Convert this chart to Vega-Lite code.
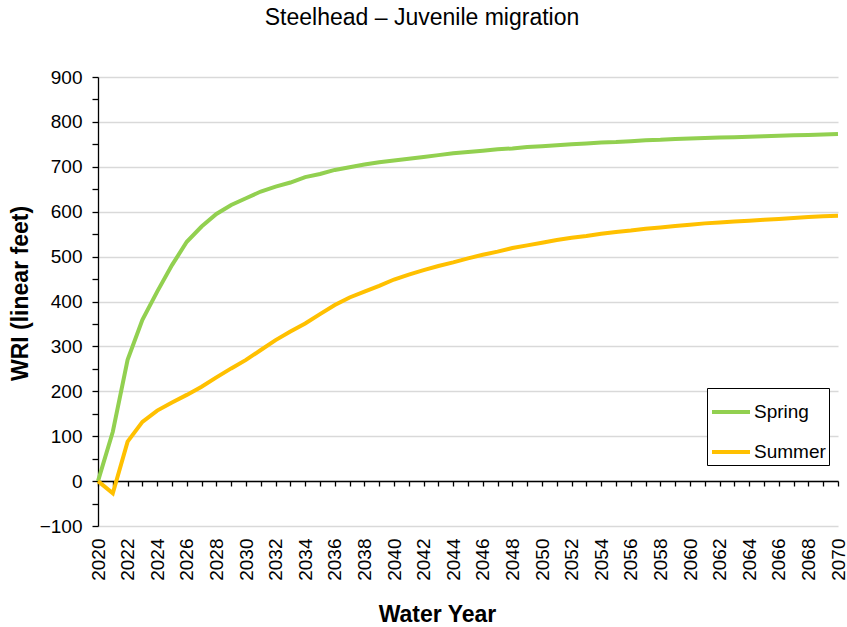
{
  "$schema": "https://vega.github.io/schema/vega-lite/v6.json",
  "width": 740,
  "height": 449,
  "autosize": "none",
  "padding": {"left": 98, "top": 77, "right": 9, "bottom": 101},
  "background": "white",
  "config": {
    "font": "Liberation Sans",
    "view": {"stroke": null}
  },
  "title": {
    "text": "Steelhead – Juvenile migration",
    "font": "Liberation Sans",
    "fontSize": 23,
    "fontWeight": "normal",
    "color": "#000000",
    "anchor": "middle",
    "frame": "group",
    "dx": -46,
    "offset": 38
  },
  "data": {
    "values": [
      {"year": 2020, "Spring": 0, "Summer": 0},
      {"year": 2021, "Spring": 110, "Summer": -27},
      {"year": 2022, "Spring": 270, "Summer": 88},
      {"year": 2023, "Spring": 359, "Summer": 132},
      {"year": 2024, "Spring": 422, "Summer": 157},
      {"year": 2025, "Spring": 481, "Summer": 175},
      {"year": 2026, "Spring": 533, "Summer": 192},
      {"year": 2027, "Spring": 567, "Summer": 210},
      {"year": 2028, "Spring": 595, "Summer": 231},
      {"year": 2029, "Spring": 615, "Summer": 251},
      {"year": 2030, "Spring": 630, "Summer": 270},
      {"year": 2031, "Spring": 645, "Summer": 292},
      {"year": 2032, "Spring": 656, "Summer": 314},
      {"year": 2033, "Spring": 665, "Summer": 333},
      {"year": 2034, "Spring": 677, "Summer": 351},
      {"year": 2035, "Spring": 684, "Summer": 372},
      {"year": 2036, "Spring": 693, "Summer": 392},
      {"year": 2037, "Spring": 699, "Summer": 409},
      {"year": 2038, "Spring": 705, "Summer": 422},
      {"year": 2039, "Spring": 710, "Summer": 435},
      {"year": 2040, "Spring": 714, "Summer": 449},
      {"year": 2041, "Spring": 718, "Summer": 460},
      {"year": 2042, "Spring": 722, "Summer": 470},
      {"year": 2043, "Spring": 726, "Summer": 479},
      {"year": 2044, "Spring": 730, "Summer": 487},
      {"year": 2045, "Spring": 733, "Summer": 496},
      {"year": 2046, "Spring": 736, "Summer": 504},
      {"year": 2047, "Spring": 739, "Summer": 511},
      {"year": 2048, "Spring": 741, "Summer": 519},
      {"year": 2049, "Spring": 744, "Summer": 525},
      {"year": 2050, "Spring": 746, "Summer": 531},
      {"year": 2051, "Spring": 748, "Summer": 537},
      {"year": 2052, "Spring": 750, "Summer": 542},
      {"year": 2053, "Spring": 752, "Summer": 546},
      {"year": 2054, "Spring": 754, "Summer": 551},
      {"year": 2055, "Spring": 755, "Summer": 555},
      {"year": 2056, "Spring": 757, "Summer": 558},
      {"year": 2057, "Spring": 759, "Summer": 562},
      {"year": 2058, "Spring": 760, "Summer": 565},
      {"year": 2059, "Spring": 762, "Summer": 568},
      {"year": 2060, "Spring": 763, "Summer": 571},
      {"year": 2061, "Spring": 764, "Summer": 574},
      {"year": 2062, "Spring": 765, "Summer": 576},
      {"year": 2063, "Spring": 766, "Summer": 578},
      {"year": 2064, "Spring": 767, "Summer": 580},
      {"year": 2065, "Spring": 768, "Summer": 582},
      {"year": 2066, "Spring": 769, "Summer": 584},
      {"year": 2067, "Spring": 770, "Summer": 586},
      {"year": 2068, "Spring": 771, "Summer": 588},
      {"year": 2069, "Spring": 772, "Summer": 590},
      {"year": 2070, "Spring": 773, "Summer": 591}
    ]
  },
  "transform": [{"fold": ["Spring", "Summer"], "as": ["series", "wri"]}],
  "mark": {"type": "line", "strokeWidth": 4, "clip": false},
  "encoding": {
    "x": {
      "field": "year",
      "type": "quantitative",
      "scale": {"domain": [2020, 2070], "nice": false, "zero": false},
      "axis": {
        "title": "Water Year",
        "titleFont": "Liberation Sans",
        "titleFontSize": 23,
        "titleFontWeight": "bold",
        "titleColor": "#000000",
        "titleX": 339,
        "titleY": 140,
        "titleBaseline": "alphabetic",
        "titleAnchor": "start",
        "titleAlign": "center",
        "offset": -45,
        "values": [2020,2021,2022,2023,2024,2025,2026,2027,2028,2029,2030,2031,2032,2033,2034,2035,2036,2037,2038,2039,2040,2041,2042,2043,2044,2045,2046,2047,2048,2049,2050,2051,2052,2053,2054,2055,2056,2057,2058,2059,2060,2061,2062,2063,2064,2065,2066,2067,2068,2069,2070],
        "format": "d",
        "labelExpr": "datum.value % 2 === 0 ? datum.label : ''",
        "labelAngle": 270,
        "labelFontSize": 19,
        "labelColor": "#000000",
        "labelPadding": 52,
        "labelOverlap": false,
        "labelFlush": false,
        "grid": false,
        "domainColor": "#000000",
        "domainWidth": 1.3,
        "tickColor": "#000000",
        "tickSize": 5,
        "tickWidth": 1.3,
        "zindex": 0
      }
    },
    "y": {
      "field": "wri",
      "type": "quantitative",
      "scale": {"domain": [-100, 900], "nice": false, "zero": false},
      "axis": {
        "title": "WRI (linear feet)",
        "titleFont": "Liberation Sans",
        "titleFontSize": 23,
        "titleFontWeight": "bold",
        "titleColor": "#000000",
        "titleX": -71,
        "titleY": 216,
        "titleBaseline": "alphabetic",
        "titleAngle": 270,
        "titleAnchor": "start",
        "titleAlign": "center",
        "values": [-100,-50,0,50,100,150,200,250,300,350,400,450,500,550,600,650,700,750,800,850,900],
        "labelExpr": "datum.value % 100 === 0 ? datum.label : ''",
        "labelFontSize": 19,
        "labelColor": "#000000",
        "labelPadding": 10,
        "labelOverlap": false,
        "labelFlush": false,
        "grid": true,
        "gridColor": "#d9d9d9",
        "gridWidth": 1.3,
        "gridOpacity": {"expr": "datum.value % 100 === 0 ? 1 : 0"},
        "domainColor": "#000000",
        "domainWidth": 1.3,
        "tickColor": "#000000",
        "tickSize": 6,
        "tickWidth": 1.3
      }
    },
    "color": {
      "field": "series",
      "type": "nominal",
      "scale": {"domain": ["Spring", "Summer"], "range": ["#92D050", "#FFC000"]},
      "legend": {
        "title": null,
        "orient": "none",
        "legendX": 609,
        "legendY": 311,
        "symbolType": "stroke",
        "symbolStrokeWidth": 4,
        "symbolSize": 1444,
        "labelFontSize": 19,
        "labelColor": "#000000",
        "labelOffset": 2,
        "rowPadding": 9,
        "padding": 3,
        "strokeColor": "#000000",
        "fillColor": "#ffffff"
      }
    }
  }
}
